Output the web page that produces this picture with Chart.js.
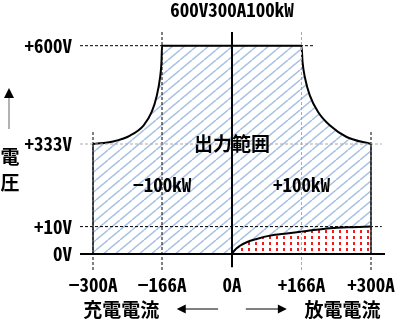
<!DOCTYPE html>
<html>
<head>
<meta charset="utf-8">
<script src="https://cdn.jsdelivr.net/npm/chart.js@4.4.1/dist/chart.umd.min.js"></script>
<style>
  html, body { margin: 0; padding: 0; background: #fff; }
  #wrap { width: 400px; height: 324px; position: relative; }
</style>
</head>
<body>
<div id="wrap"><canvas id="chart"></canvas></div>
<script>
// tick values and labels
const currentTicks = [-300, -166, 0, 166, 300];
const currentLabels = ['−300A', '−166A', '0A', '+166A', '+300A'];
const voltageTicks = [0, 10, 333, 600];
const voltageLabels = ['0V', '+10V', '+333V', '+600V'];

// output range envelope (A, V)
const rangeCurrent = [-300, -261, -228, -202, -186, -176, -170, -167, -166, 166, 168, 173, 182, 198, 221, 253, 300];
const rangeVoltage = [333, 340, 356, 383, 420, 465, 511, 556, 600, 600, 556, 511, 465, 420, 383, 352, 333];

// low voltage limit on the discharge side
const lowCurrent = [0, 7, 19, 35, 59, 91, 131, 176, 221, 265, 300];
const lowVoltage = [0, 1.5, 3.0, 4.3, 5.5, 6.7, 7.5, 8.4, 9.4, 9.8, 10];

const titleText = '600V300A100kW';
const regionLabel = '出力範囲';
const powerLabels = ['−100kW', '+100kW'];
const axisLabelY = ['電', '圧'];
const chargeLabel = '充電電流';
const dischargeLabel = '放電電流';

const latinFont = "'Noto Sans Mono CJK JP', 'Noto Sans CJK JP', 'DejaVu Sans Mono', monospace";
const cjkFont = "'Noto Sans CJK JP', sans-serif";

// linear scale with uneven spacing between the break values
class PiecewiseScale extends Chart.LinearScale {
  toDecimal(value) {
    const v = this.options.stopValues, p = this.options.stopPositions;
    let i = 1;
    while (i < v.length - 1 && value > v[i]) i++;
    const t = (value - v[i - 1]) / (v[i] - v[i - 1]);
    return (p[i - 1] + t * (p[i] - p[i - 1])) / p[p.length - 1];
  }
  getPixelForValue(value) {
    if (value === null || value === undefined) return NaN;
    return this.getPixelForDecimal(this.toDecimal(value));
  }
  getValueForPixel(pixel) {
    const v = this.options.stopValues, p = this.options.stopPositions;
    const d = this.getDecimalForPixel(pixel) * p[p.length - 1];
    let i = 1;
    while (i < p.length - 1 && d > p[i]) i++;
    const t = (d - p[i - 1]) / (p[i] - p[i - 1]);
    return v[i - 1] + t * (v[i] - v[i - 1]);
  }
}
PiecewiseScale.id = 'piecewise';
Chart.register(PiecewiseScale);

const canvas = document.getElementById('chart');
const mainCtx = canvas.getContext('2d');

function hatchPattern() {
  const c = document.createElement('canvas');
  c.width = 12; c.height = 10;
  const g = c.getContext('2d');
  g.strokeStyle = '#a8c1e4';
  g.lineWidth = 1.5;
  for (const dx of [-12, 0, 12]) {
    g.beginPath(); g.moveTo(dx, 10); g.lineTo(dx + 12, 0); g.stroke();
  }
  return mainCtx.createPattern(c, 'repeat');
}

function dotPattern() {
  const c = document.createElement('canvas');
  c.width = 7; c.height = 6;
  const g = c.getContext('2d');
  g.fillStyle = '#fff';
  g.fillRect(0, 0, 7, 6);
  g.fillStyle = '#ee1c1c';
  g.fillRect(3, 2, 2, 3);
  return mainCtx.createPattern(c, 'repeat');
}

const pts = (xs, ys) => xs.map((x, i) => ({ x: x, y: ys[i] }));

function refLine(data, color, dash, width, order) {
  return {
    data: data, borderColor: color, borderDash: dash, borderWidth: width,
    pointRadius: 0, fill: false, tension: 0, order: order
  };
}

const datasets = [
  // axes
  refLine([{ x: -325, y: 0 }, { x: 330, y: 0 }], '#000', [], 2, 0),
  refLine([{ x: 0, y: -5 }, { x: 0, y: 637 }], '#000', [], 2, 0),
  // side edges of the range
  refLine([{ x: -300, y: 0 }, { x: -300, y: 333 }], '#222', [], 1.5, 1),
  refLine([{ x: 300, y: 0 }, { x: 300, y: 333 }], '#222', [], 1.5, 1),
  // dashed guides
  refLine([{ x: -325, y: 600 }, { x: 192, y: 600 }], '#000', [3, 2], 1, 2),
  refLine([{ x: -325, y: 333 }, { x: 323, y: 333 }], '#aaa', [3, 2], 1, 2),
  refLine([{ x: -325, y: 10 }, { x: 323, y: 10 }], '#000', [3, 2], 1, 2),
  refLine([{ x: -166, y: -6 }, { x: -166, y: 637 }], '#000', [3, 2], 1, 2),
  refLine([{ x: 166, y: -6 }, { x: 166, y: 637 }], '#aaa', [3, 2], 1, 2),
  refLine([{ x: -300, y: -6 }, { x: -300, y: 370 }], '#000', [3, 2], 1, 2),
  refLine([{ x: 300, y: -6 }, { x: 300, y: 370 }], '#000', [3, 2], 1, 2),
  // low voltage region
  {
    data: pts(lowCurrent, lowVoltage), borderColor: '#000', borderWidth: 2,
    backgroundColor: dotPattern(), fill: 'origin', pointRadius: 0,
    cubicInterpolationMode: 'monotone', order: 4
  },
  // output range
  {
    data: pts(rangeCurrent, rangeVoltage), borderColor: '#000', borderWidth: 2,
    backgroundColor: hatchPattern(), fill: 'origin', pointRadius: 0,
    cubicInterpolationMode: 'monotone', order: 5
  }
];

const annotations = {
  id: 'annotations',
  afterDatasetsDraw(chart) {
    const { ctx, scales: { x, y }, chartArea } = chart;
    ctx.save();
    ctx.fillStyle = '#000';
    ctx.textAlign = 'center';
    ctx.textBaseline = 'middle';

    ctx.font = 'bold 19px ' + latinFont;
    ctx.fillText(titleText, x.getPixelForValue(0), 10);
    ctx.fillText(powerLabels[0], x.getPixelForValue(-166), y.getPixelForValue(173));
    ctx.fillText(powerLabels[1], x.getPixelForValue(166), y.getPixelForValue(173));

    ctx.font = 'bold 19px ' + cjkFont;
    ctx.fillText(regionLabel, x.getPixelForValue(0), y.getPixelForValue(333));
    ctx.fillText(axisLabelY[0], 10, 157);
    ctx.fillText(axisLabelY[1], 10, 183);

    const by = chartArea.bottom + 40;
    ctx.fillText(chargeLabel, x.getPixelForValue(-245), by);
    ctx.fillText(dischargeLabel, x.getPixelForValue(245), by);

    // current direction arrows
    const ay = by - 1;
    const arrow = (from, to) => {
      const x1 = x.getPixelForValue(from), x2 = x.getPixelForValue(to);
      const dir = Math.sign(x2 - x1);
      ctx.strokeStyle = '#000';
      ctx.lineWidth = 1;
      ctx.beginPath(); ctx.moveTo(x1, ay); ctx.lineTo(x2 - dir * 8, ay); ctx.stroke();
      ctx.beginPath();
      ctx.moveTo(x2, ay);
      ctx.lineTo(x2 - dir * 9, ay - 4.5);
      ctx.lineTo(x2 - dir * 9, ay + 4.5);
      ctx.closePath(); ctx.fill();
    };
    arrow(-33, -131);
    arrow(33, 131);

    // voltage arrow
    ctx.strokeStyle = '#999';
    ctx.lineWidth = 1.5;
    ctx.beginPath(); ctx.moveTo(9, 97); ctx.lineTo(9, 129); ctx.stroke();
    ctx.beginPath();
    ctx.moveTo(9, 88); ctx.lineTo(4, 98); ctx.lineTo(14, 98);
    ctx.closePath(); ctx.fill();
    ctx.restore();
  }
};

const tickFont = { family: latinFont, size: 19, weight: 'bold' };

new Chart(canvas, {
  type: 'line',
  data: { datasets: datasets },
  options: {
    responsive: true,
    maintainAspectRatio: false,
    animation: false,
    events: [],
    layout: { padding: { top: 32, right: 15, left: 0, bottom: 0 } },
    plugins: { legend: { display: false }, tooltip: { enabled: false }, title: { display: false } },
    scales: {
      x: {
        type: 'piecewise',
        min: -325, max: 330,
        stopValues: [-325, -300, -166, 0, 166, 300, 330],
        stopPositions: [0, 13, 82, 152, 221.5, 291, 305],
        afterBuildTicks: s => { s.ticks = currentTicks.map(v => ({ value: v })); },
        afterFit: s => { s.height = 54; },
        grid: { display: false, drawTicks: false },
        border: { display: false },
        ticks: {
          autoSkip: false, maxRotation: 0, padding: 3, color: '#000', font: tickFont,
          callback: (v, i) => currentLabels[i]
        }
      },
      y: {
        type: 'piecewise',
        min: -6, max: 637,
        stopValues: [-6, 0, 10, 333, 600, 637],
        stopPositions: [0, 16, 43.4, 126, 224.3, 238],
        afterBuildTicks: s => { s.ticks = voltageTicks.map(v => ({ value: v })); },
        afterFit: s => { s.width = 80; },
        grid: { display: false, drawTicks: false },
        border: { display: false },
        ticks: {
          autoSkip: false, padding: 8, color: '#000', font: tickFont,
          callback: (v, i) => voltageLabels[i]
        }
      }
    }
  },
  plugins: [annotations]
});
</script>
</body>
</html>
